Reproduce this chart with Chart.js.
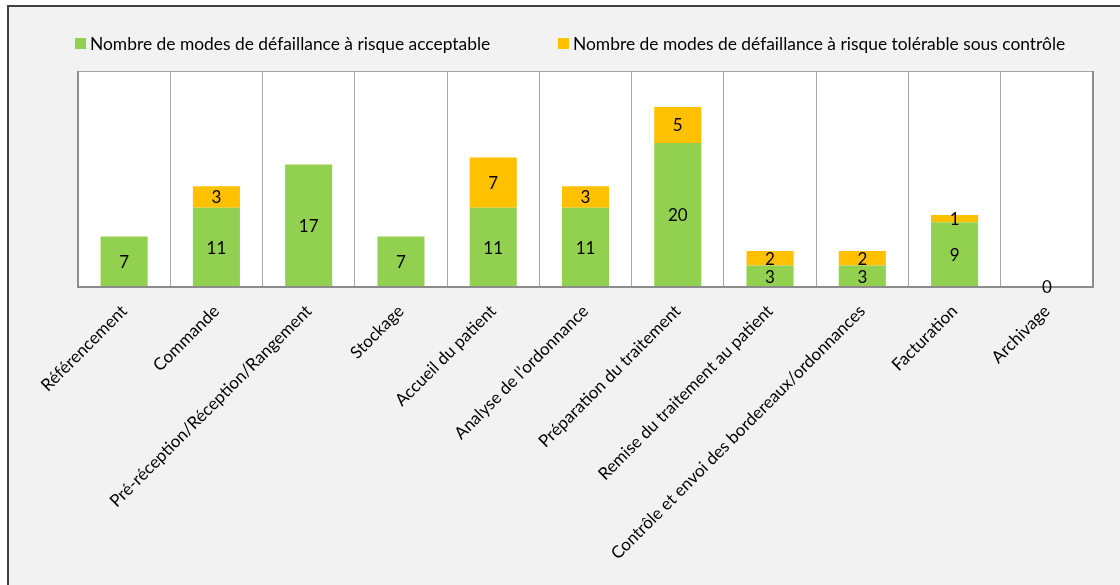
<!DOCTYPE html>
<html>
<head>
<meta charset="utf-8">
<script src="https://cdn.jsdelivr.net/npm/chart.js@4/dist/chart.umd.min.js"></script>
<style>
  html, body { margin: 0; padding: 0; background: #ffffff; overflow: hidden; }
  #frame { position: absolute; left: 7px; top: 5px; width: 1200px; height: 700px;
           background: #f2f2f2; border: 2px solid #404040; box-sizing: border-box; }
  #wrap { position: absolute; left: 0; top: 0; width: 1120px; height: 585px; }
</style>
</head>
<body>
<div id="frame"></div>
<div id="wrap"><canvas id="c" width="1120" height="585"></canvas></div>
<script>
const categories = [
  "Référencement",
  "Commande",
  "Pré-réception/Réception/Rangement",
  "Stockage",
  "Accueil du patient",
  "Analyse de l’ordonnance",
  "Préparation du traitement",
  "Remise du traitement au patient",
  "Contrôle et envoi des bordereaux/ordonnances",
  "Facturation",
  "Archivage"
];
const acceptable = [7, 11, 17, 7, 11, 11, 20, 3, 3, 9, 0];
const tolerable  = [null, 3, null, null, 7, 3, 5, 2, 2, 1, null];
const seriesNames = [
  "Nombre de modes de défaillance à risque acceptable",
  "Nombre de modes de défaillance à risque tolérable sous contrôle"
];
const seriesColors = ["#92D050", "#FFC000"];
const yMax = 30;

const FONT = "Lato, 'Open Sans', sans-serif";

const plotBg = {
  id: 'plotBg',
  beforeDraw(chart) {
    const {ctx, chartArea: a} = chart;
    ctx.save();
    ctx.fillStyle = '#ffffff';
    ctx.fillRect(a.left, a.top, a.right - a.left, a.bottom - a.top);
    ctx.restore();
  },
  afterDraw(chart) {
    const {ctx, chartArea: a} = chart;
    ctx.save();
    ctx.strokeStyle = '#a6a6a6';
    ctx.lineWidth = 1;
    ctx.strokeRect(a.left + 0.5, a.top + 0.5, a.right - a.left - 1, a.bottom - a.top);
    ctx.strokeStyle = '#8c8c8c';
    ctx.lineWidth = 2;
    ctx.beginPath();
    ctx.moveTo(a.left, a.top); ctx.lineTo(a.left, a.bottom);
    ctx.lineTo(a.right, a.bottom); ctx.lineTo(a.right, a.top);
    ctx.stroke();
    ctx.restore();
  }
};

const valueLabels = {
  id: 'valueLabels',
  afterDraw(chart) {
    const {ctx} = chart;
    ctx.save();
    ctx.font = "17px " + FONT;
    ctx.fillStyle = '#000000';
    ctx.textAlign = 'center';
    ctx.textBaseline = 'middle';
    chart.data.datasets.forEach((ds, di) => {
      const meta = chart.getDatasetMeta(di);
      meta.data.forEach((el, i) => {
        const v = ds.data[i];
        if (v === null || v === undefined) return;
        ctx.fillText(String(v), el.x, (el.y + el.base) / 2 + 1);
      });
    });
    ctx.restore();
  }
};

const customLegend = {
  id: 'customLegend',
  afterDraw(chart) {
    const {ctx} = chart;
    const starts = [75, 558];
    ctx.save();
    ctx.font = "17.4px " + FONT;
    ctx.textAlign = 'left';
    ctx.textBaseline = 'middle';
    chart.data.datasets.forEach((ds, di) => {
      const x = starts[di];
      ctx.fillStyle = ds.backgroundColor;
      ctx.fillRect(x, 38, 11, 11);
      ctx.fillStyle = '#000000';
      ctx.fillText(ds.label, x + 15, 44);
    });
    ctx.restore();
  }
};

new Chart(document.getElementById('c'), {
  type: 'bar',
  data: {
    labels: categories,
    datasets: [
      { label: seriesNames[0], data: acceptable, backgroundColor: seriesColors[0],
        borderWidth: 0, barPercentage: 0.51, categoryPercentage: 1.0 },
      { label: seriesNames[1], data: tolerable, backgroundColor: seriesColors[1],
        borderWidth: 0, barPercentage: 0.51, categoryPercentage: 1.0 }
    ]
  },
  options: {
    responsive: false,
    animation: false,
    events: [],
    layout: { padding: { left: 78, right: 27, top: 71, bottom: 0 } },
    plugins: {
      legend: { display: false },
      tooltip: { enabled: false }
    },
    scales: {
      x: {
        stacked: true,
        offset: true,
        grid: { display: true, offset: true, color: '#a6a6a6', lineWidth: 1, drawTicks: false },
        border: { display: false },
        ticks: {
          autoSkip: false, maxRotation: 45, minRotation: 45, padding: 14,
          color: '#000000', font: { family: FONT, size: 17 }
        },
        afterFit(scale) { scale.height = 298; }
      },
      y: {
        stacked: true,
        display: false,
        min: 0, max: yMax
      }
    }
  },
  plugins: [plotBg, valueLabels, customLegend]
});
</script>
</body>
</html>
